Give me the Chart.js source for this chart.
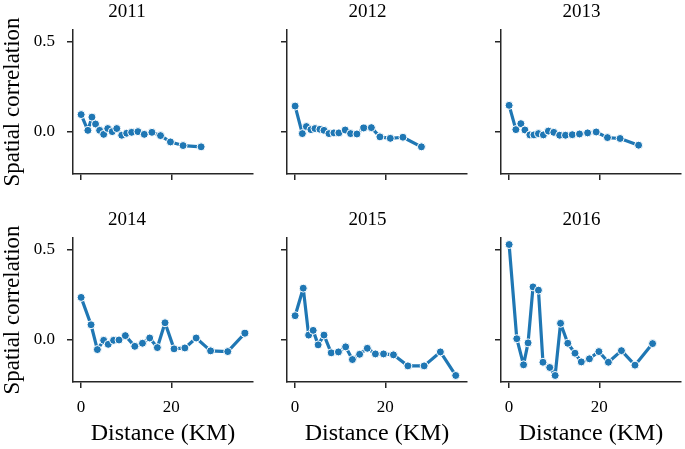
<!DOCTYPE html>
<html>
<head>
<meta charset="utf-8">
<script src="https://cdn.jsdelivr.net/npm/chart.js@4"></script>
<style>
  body { margin: 0; background: #fff; }
  #fig { position: relative; width: 685px; height: 449px; overflow: hidden; }
  canvas { position: absolute; }
</style>
</head>
<body>
<div id="fig">
  <canvas id="c0"></canvas><canvas id="c1"></canvas><canvas id="c2"></canvas>
  <canvas id="c3"></canvas><canvas id="c4"></canvas><canvas id="c5"></canvas>
</div>
<script>
// values (distance in km, spatial correlation)
const years = ["2011", "2012", "2013", "2014", "2015", "2016"];

const dist2011 = [0, 1.5, 2.4, 3.2, 4.1, 5.0, 5.9, 6.9, 7.9, 9.0, 10.1, 11.2, 12.6, 14.0, 15.7, 17.6, 19.8, 22.6, 26.6];
const corr2011 = [0.096, 0.009, 0.082, 0.044, 0.009, -0.013, 0.019, 0.002, 0.019, -0.018, -0.007, -0.002, 0.002, -0.013, -0.002, -0.020, -0.055, -0.075, -0.082];

const dist2012 = [0, 1.6, 2.5, 3.5, 4.4, 5.5, 6.4, 7.5, 8.6, 9.7, 11.1, 12.3, 13.7, 15.2, 16.9, 18.8, 21.1, 23.9, 28.0];
const corr2012 = [0.143, -0.009, 0.030, 0.013, 0.019, 0.015, 0.009, -0.009, -0.005, -0.005, 0.011, -0.009, -0.011, 0.022, 0.024, -0.027, -0.035, -0.029, -0.082];

const dist2013 = [0, 1.5, 2.6, 3.5, 4.6, 5.5, 6.5, 7.6, 8.7, 9.9, 11.2, 12.5, 14.0, 15.6, 17.4, 19.3, 21.8, 24.6, 28.7];
const corr2013 = [0.147, 0.013, 0.046, 0.011, -0.016, -0.016, -0.009, -0.016, 0.005, -0.002, -0.018, -0.018, -0.015, -0.011, -0.005, 0.0, -0.031, -0.036, -0.073];

const dist2014 = [0, 2.2, 3.6, 5.0, 6.0, 7.2, 8.4, 9.8, 11.9, 13.6, 15.2, 16.9, 18.6, 20.6, 23.0, 25.5, 28.7, 32.5, 36.3];
const corr2014 = [0.235, 0.084, -0.053, -0.002, -0.024, -0.002, 0.0, 0.024, -0.035, -0.018, 0.011, -0.042, 0.095, -0.049, -0.044, 0.011, -0.060, -0.064, 0.037];

const dist2015 = [0, 1.8, 3.0, 4.0, 5.1, 6.4, 8.0, 9.6, 11.2, 12.7, 14.3, 16.0, 17.8, 19.6, 21.8, 25.0, 28.6, 32.2, 35.6];
const corr2015 = [0.134, 0.286, 0.027, 0.053, -0.027, 0.027, -0.071, -0.066, -0.038, -0.108, -0.079, -0.046, -0.077, -0.077, -0.082, -0.143, -0.143, -0.066, -0.196];

const dist2016 = [0, 1.7, 3.2, 4.2, 5.3, 6.5, 7.5, 9.0, 10.2, 11.4, 13.0, 14.6, 16.0, 17.8, 19.9, 22.0, 24.9, 27.9, 31.8];
const corr2016 = [0.527, 0.007, -0.137, -0.016, 0.293, 0.275, -0.123, -0.152, -0.196, 0.092, -0.018, -0.073, -0.121, -0.104, -0.064, -0.123, -0.059, -0.139, -0.020];

const xTicks = [0, 20];
const yTicks = [0, 0.5];

const dists = [dist2011, dist2012, dist2013, dist2014, dist2015, dist2016];
const corrs = [corr2011, corr2012, corr2013, corr2014, corr2015, corr2016];

const BLUE = "#1f77b4";
const AX = "#262626";
const SERIF = "'Liberation Serif', 'DejaVu Serif', serif";

// panel geometry
const PLOT_LEFT = [73, 287, 501];
const PLOT_W = 181;
const PLOT_H = 144;
const ROW_TOP = [0, 208];

function panel(i) {
  const col = i % 3, row = Math.floor(i / 3);
  const yw = col === 0 ? 73 : 20;
  const xh = row === 1 ? 67 : 24;   // row 0 needs room for the y label padding
  const cv = document.getElementById("c" + i);
  cv.width = yw + PLOT_W + 4;
  cv.height = 30 + PLOT_H + xh;
  cv.style.left = (PLOT_LEFT[col] - yw) + "px";
  cv.style.top = ROW_TOP[row] + "px";

  new Chart(cv, {
    type: "line",
    data: {
      datasets: [{
        data: dists[i].map((x, k) => ({ x: x, y: corrs[i][k] })),
        borderColor: BLUE, borderWidth: 3.2, borderJoinStyle: "round",
        pointRadius: 4, pointBackgroundColor: BLUE,
        pointBorderColor: "#fff", pointBorderWidth: 1,
        tension: 0
      }]
    },
    options: {
      responsive: false, animation: false, devicePixelRatio: 1,
      layout: { padding: { left: 0, right: 4, top: 0, bottom: 0 } },
      plugins: {
        legend: { display: false },
        tooltip: { enabled: false },
        title: {
          display: true, text: years[i], color: "#000",
          font: { family: SERIF, size: 19, weight: "normal", lineHeight: 1.2 },
          padding: { top: 0.5, bottom: 6.7 }
        }
      },
      scales: {
        x: {
          type: "linear", min: -1.8, max: 38.1,
          afterBuildTicks: s => { s.ticks = xTicks.map(v => ({ value: v })); },
          afterFit: s => { s.height = xh; },
          grid: { drawOnChartArea: false, drawTicks: true, tickLength: 6, color: AX, lineWidth: 1.5 },
          border: { display: true, color: AX, width: 1.5 },
          ticks: { display: row === 1, color: "#000", font: { family: SERIF, size: 17 }, padding: 9, maxRotation: 0 },
          title: {
            display: row === 1, text: "Distance (KM)", color: "#000",
            font: { family: SERIF, size: 24, lineHeight: 1.2 }, padding: { top: 4, bottom: 1 }
          }
        },
        y: {
          type: "linear", min: -0.232, max: 0.563,
          afterBuildTicks: s => { s.ticks = yTicks.map(v => ({ value: v })); },
          afterFit: s => { s.width = yw; },
          grid: { drawOnChartArea: false, drawTicks: true, tickLength: 6, color: AX, lineWidth: 1.5 },
          border: { display: true, color: AX, width: 1.5 },
          ticks: { display: col === 0, color: "#000", font: { family: SERIF, size: 17 }, padding: 12,
                   callback: v => v.toFixed(1) },
          title: {
            display: col === 0, text: "Spatial correlation", color: "#000",
            font: { family: SERIF, size: 23, lineHeight: 1 }, padding: { top: 1, bottom: 1 }
          }
        }
      }
    }
  });
}

for (let i = 0; i < 6; i++) panel(i);
</script>
</body>
</html>
